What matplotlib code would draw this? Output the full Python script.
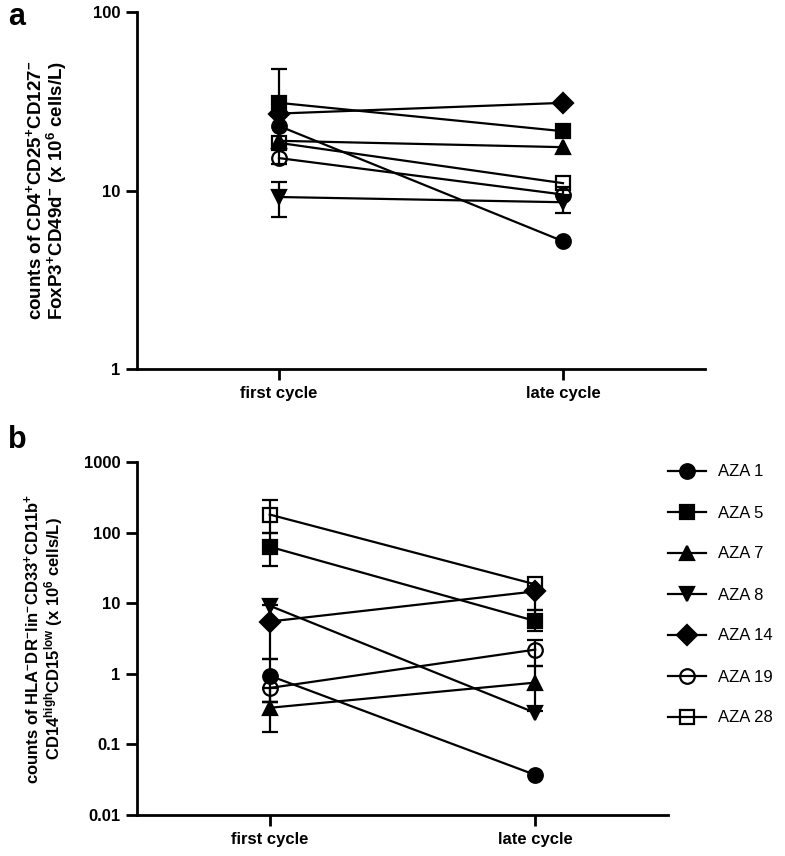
import numpy as np
import matplotlib
matplotlib.use("Agg")
import matplotlib.pyplot as plt
from matplotlib.ticker import FixedLocator, NullLocator, FixedFormatter

plt.rcParams['font.family'] = ['Liberation Sans', 'DejaVu Sans']
plt.rcParams['mathtext.default'] = 'regular'

patients = ["AZA 1", "AZA 5", "AZA 7", "AZA 8", "AZA 14", "AZA 19", "AZA 28"]
markers = ["o", "s", "^", "v", "D", "o", "s"]
hollow = [False, False, False, False, False, True, True]
cycles = ["first cycle", "late cycle"]

# panel a: Treg counts (x 10^6 cells/L)
treg_first = [23, 31, 19, 9.2, 27, 15.2, 18.5]
treg_late = [5.2, 21.5, 17.5, 8.6, 31, 9.5, 11]
treg_first_lo = [np.nan, 14, np.nan, 7.1, np.nan, np.nan, np.nan]
treg_first_hi = [np.nan, 48, np.nan, 11.2, np.nan, np.nan, np.nan]
treg_late_lo = [np.nan, np.nan, np.nan, 7.5, np.nan, np.nan, np.nan]
treg_late_hi = [np.nan, np.nan, np.nan, 10.5, np.nan, np.nan, np.nan]
treg_ticks = [1, 10, 100]
treg_ticklabels = ["1", "10", "100"]

# panel b: MDSC counts (x 10^6 cells/L)
mdsc_first = [0.94, 63, 0.33, 9.2, 5.5, 0.63, 180]
mdsc_late = [0.037, 5.6, 0.75, 0.28, 14.7, 2.2, 18.5]
mdsc_first_lo = [0.4, 34, 0.15, np.nan, 1.6, 0.4, 100]
mdsc_first_hi = [1.6, 100, 0.4, np.nan, 9.5, np.nan, 290]
mdsc_late_lo = [np.nan, 4.0, 0.3, np.nan, 8.0, 1.3, np.nan]
mdsc_late_hi = [np.nan, 8.0, 1.3, np.nan, np.nan, 3.0, 24]
mdsc_ticks = [0.01, 0.1, 1, 10, 100, 1000]
mdsc_ticklabels = ["0.01", "0.1", "1", "10", "100", "1000"]


def draw_panel(ax, first, late, f_lo, f_hi, l_lo, l_hi, ticks, ticklabels):
    x = np.arange(len(cycles))
    handles = []
    for i, name in enumerate(patients):
        y = np.array([first[i], late[i]])
        lo = np.array([f_lo[i], l_lo[i]])
        hi = np.array([f_hi[i], l_hi[i]])
        ok = ~np.isnan(lo)
        if ok.any():
            up = np.where(np.isnan(hi), y, hi)
            ax.errorbar(x[ok], y[ok], yerr=[y[ok] - lo[ok], up[ok] - y[ok]],
                        fmt="none", ecolor="k", elinewidth=1.6, capsize=5.5,
                        capthick=1.6, zorder=2)
        h, = ax.plot(x, y, color="k", lw=1.6, marker=markers[i], ms=10.5,
                     mfc="none" if hollow[i] else "k", mec="k", mew=1.6,
                     label=name, zorder=3)
        handles.append(h)

    ax.set_yscale("log")
    ax.set_ylim(ticks[0], ticks[-1])
    ax.set_xlim(-0.5, 1.5)
    ax.yaxis.set_major_locator(FixedLocator(ticks))
    ax.yaxis.set_major_formatter(FixedFormatter(ticklabels))
    ax.yaxis.set_minor_locator(NullLocator())
    ax.set_xticks(x)
    ax.set_xticklabels(cycles, fontweight="bold", fontsize=12)
    for lab in ax.get_yticklabels():
        lab.set_fontweight("bold")
        lab.set_fontsize(12)
    ax.spines["top"].set_visible(False)
    ax.spines["right"].set_visible(False)
    ax.spines["left"].set_linewidth(2)
    ax.spines["bottom"].set_linewidth(2)
    ax.tick_params(axis="both", width=2, length=8, pad=4)
    return handles


fig = plt.figure(figsize=(7.85, 8.56), dpi=100)
ax_a = fig.add_axes([0.1745, 0.5689, 0.7236, 0.4170])
ax_b = fig.add_axes([0.1745, 0.0479, 0.6764, 0.4124])

draw_panel(ax_a, treg_first, treg_late, treg_first_lo, treg_first_hi,
           treg_late_lo, treg_late_hi, treg_ticks, treg_ticklabels)
handles = draw_panel(ax_b, mdsc_first, mdsc_late, mdsc_first_lo, mdsc_first_hi,
                     mdsc_late_lo, mdsc_late_hi, mdsc_ticks, mdsc_ticklabels)

ax_a.set_ylabel("counts of CD4$^{+}$CD25$^{+}$CD127$^{-}$\n"
                "FoxP3$^{+}$CD49d$^{-}$ (x 10$^{6}$ cells/L)",
                fontweight="bold", fontsize=13.5, linespacing=1.0)
ax_a.yaxis.set_label_coords(-0.12, 0.5)

ax_b.set_ylabel("counts of HLA$^{-}$DR$^{-}$lin$^{-}$CD33$^{+}$CD11b$^{+}$\n"
                "CD14$^{high}$CD15$^{low}$ (x 10$^{6}$ cells/L)",
                fontweight="bold", fontsize=12, linespacing=1.0)
ax_b.yaxis.set_label_coords(-0.135, 0.5)

fig.text(0.01, 0.998, "a", fontsize=22, fontweight="bold", va="top")
fig.text(0.01, 0.503, "b", fontsize=22, fontweight="bold", va="top")

fig.legend(handles=handles, loc="center left",
           bbox_to_anchor=(668 / 785, 1 - 595 / 856),
           frameon=False, fontsize=12, numpoints=1, handlelength=2.3,
           handletextpad=0.7, labelspacing=1.56, borderpad=0, borderaxespad=0)

fig.savefig("out.png", dpi=100)
